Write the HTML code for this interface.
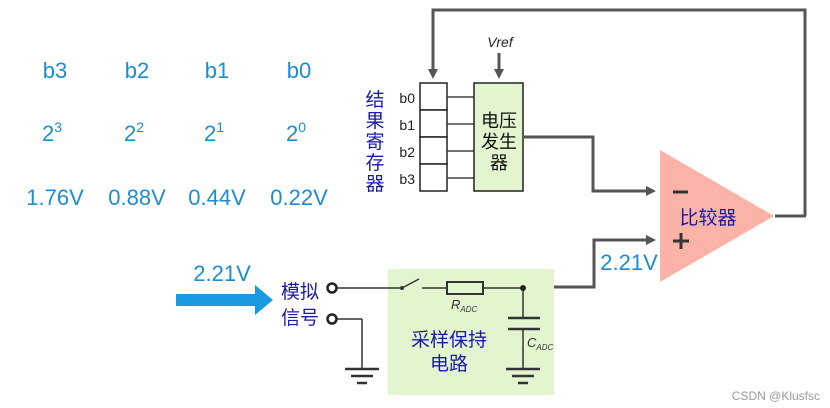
<!DOCTYPE html>
<html><head><meta charset="utf-8"><style>
html,body{margin:0;padding:0;background:#fff;}
svg{display:block;}
text{font-family:"Liberation Sans","Noto Sans CJK SC",sans-serif;}
</style></head><body>
<svg width="830" height="408" viewBox="0 0 830 408" xmlns="http://www.w3.org/2000/svg">
<defs>
<marker id="ah" markerWidth="10" markerHeight="10" refX="7" refY="5" orient="auto" markerUnits="userSpaceOnUse"><path d="M0,0 L10,5 L0,10 z" fill="#555"/></marker>
</defs>
<g fill="#1a8dd4" font-size="22" text-anchor="middle">
<text x="55" y="78">b3</text><text x="137" y="78">b2</text><text x="217" y="78">b1</text><text x="299" y="78">b0</text>
<text x="52" y="141">2<tspan font-size="14" dy="-9">3</tspan></text>
<text x="134" y="141">2<tspan font-size="14" dy="-9">2</tspan></text>
<text x="214" y="141">2<tspan font-size="14" dy="-9">1</tspan></text>
<text x="296" y="141">2<tspan font-size="14" dy="-9">0</tspan></text>
<text x="55" y="205">1.76V</text><text x="137" y="205">0.88V</text><text x="217" y="205">0.44V</text><text x="299" y="205">0.22V</text>
<text x="222" y="281">2.21V</text>
<text x="629" y="270">2.21V</text>
</g>
<g fill="#1a1aa8" font-size="19" text-anchor="middle">
<text x="375" y="106">结</text><text x="375" y="127">果</text><text x="375" y="148">寄</text><text x="375" y="169">存</text><text x="375" y="190">器</text>
</g>
<g fill="#222" font-size="14" text-anchor="end">
<text x="415" y="103">b0</text><text x="415" y="130">b1</text><text x="415" y="157">b2</text><text x="415" y="184">b3</text>
</g>
<g stroke="#222" stroke-width="1.5" fill="#fff">
<rect x="420" y="83" width="27" height="27"/><rect x="420" y="110" width="27" height="27"/>
<rect x="420" y="137" width="27" height="27"/><rect x="420" y="164" width="27" height="27"/>
</g>
<g stroke="#444" stroke-width="1.5">
<line x1="447" y1="97" x2="474" y2="97"/><line x1="447" y1="124" x2="474" y2="124"/>
<line x1="447" y1="151" x2="474" y2="151"/><line x1="447" y1="178" x2="474" y2="178"/>
</g>
<rect x="474" y="83" width="49" height="108" fill="#e2f5cf" stroke="#222" stroke-width="1.5"/>
<g fill="#111" font-size="18" text-anchor="middle">
<text x="499" y="127">电压</text><text x="499" y="148">发生</text><text x="499" y="169">器</text>
</g>
<text x="500" y="47" font-size="14" font-style="italic" fill="#222" text-anchor="middle">Vref</text>
<g fill="none" stroke="#555" stroke-width="3">
<line x1="499" y1="53" x2="499" y2="76" marker-end="url(#ah)"/>
<polyline points="805,216 805,10 433,10 433,76" marker-end="url(#ah)"/>
<line x1="775" y1="216" x2="806" y2="216"/>
<polyline points="523,137 593,137 593,191 653,191" marker-end="url(#ah)"/>
<polyline points="523,287 594,287 594,240 653,240" marker-end="url(#ah)"/>
</g>
<polygon points="660,150 660,282 774,216" fill="#fbb3a8"/>
<line x1="673" y1="192" x2="688" y2="192" stroke="#333" stroke-width="3"/>
<line x1="673" y1="241" x2="689" y2="241" stroke="#333" stroke-width="3"/>
<line x1="681" y1="233" x2="681" y2="249" stroke="#333" stroke-width="3"/>
<text x="708" y="224" font-size="19" fill="#1a1aa8" text-anchor="middle">比较器</text>
<polygon points="176,294 255,294 255,285 273,300 255,315 255,306 176,306" fill="#1a9ae0"/>
<g fill="#1a1aa8" font-size="19" text-anchor="middle">
<text x="300" y="298">模拟</text><text x="300" y="324">信号</text>
</g>
<rect x="388" y="269" width="166" height="126" fill="#e2f5cf"/>
<g fill="none" stroke="#333" stroke-width="1.5">
<line x1="336" y1="288" x2="402" y2="288"/>
<line x1="402" y1="288" x2="419" y2="279"/>
<line x1="422" y1="288" x2="447" y2="288"/>
<rect x="447" y="282" width="36" height="12" stroke-width="2"/>
<line x1="483" y1="288" x2="523" y2="288"/>
<line x1="523" y1="288" x2="523" y2="318"/>
<line x1="523" y1="329" x2="523" y2="368"/>
<line x1="336" y1="319" x2="362" y2="319"/>
<line x1="362" y1="319" x2="362" y2="369"/>
</g>
<g stroke="#333" stroke-width="2.5" fill="none">
<line x1="508" y1="318" x2="540" y2="318"/><line x1="508" y1="329" x2="540" y2="329"/>
<line x1="506" y1="369" x2="540" y2="369"/><line x1="512" y1="376" x2="534" y2="376"/><line x1="518" y1="383" x2="528" y2="383"/>
<line x1="345" y1="369" x2="379" y2="369"/><line x1="351" y1="376" x2="373" y2="376"/><line x1="357" y1="383" x2="367" y2="383"/>
</g>
<circle cx="402" cy="288" r="2" fill="#333"/>
<circle cx="523" cy="288" r="3" fill="#222"/>
<circle cx="332" cy="288" r="4.5" fill="#fff" stroke="#222" stroke-width="2.5"/>
<circle cx="332" cy="319" r="4.5" fill="#fff" stroke="#222" stroke-width="2.5"/>
<text x="451" y="309" font-size="13" font-style="italic" fill="#333">R<tspan font-size="8" dy="3">ADC</tspan></text>
<text x="527" y="347" font-size="13" font-style="italic" fill="#333">C<tspan font-size="8" dy="3">ADC</tspan></text>
<g fill="#1a1aa8" font-size="19" text-anchor="middle">
<text x="449" y="346">采样保持</text><text x="449" y="370">电路</text>
</g>
<text x="820" y="400" font-size="12" fill="#999" text-anchor="end">CSDN @Klusfsc</text>
</svg>
</body></html>
